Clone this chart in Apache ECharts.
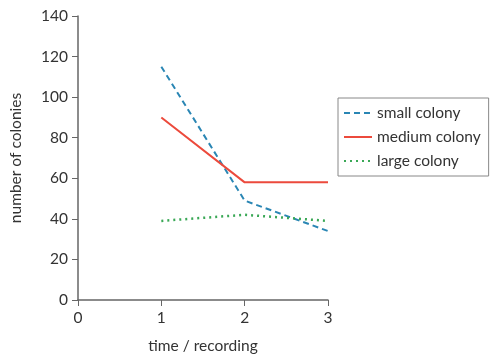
<!DOCTYPE html>
<html><head><meta charset="utf-8">
<script src="https://cdn.jsdelivr.net/npm/echarts@6/dist/echarts.min.js"></script>
<style>html,body{margin:0;padding:0;background:#fff}#c{width:497px;height:360px}</style>
</head><body><div id="c"></div>
<script>
const times = [1, 2, 3];
const smallColony = [115, 49, 34];
const mediumColony = [90, 58, 58];
const largeColony = [39, 42, 39];
const seriesNames = ['small colony', 'medium colony', 'large colony'];
const yTicks = [0, 20, 40, 60, 80, 100, 120, 140];
const xTicks = [0, 1, 2, 3];

const font = 'Lato, "Open Sans", sans-serif';
const chart = echarts.init(document.getElementById('c'));
const pairs = a => times.map((t, i) => [t, a[i]]);
chart.setOption({
  animation: false,
  textStyle: {fontFamily: font},
  grid: {left: 78, right: 169, top: 16, bottom: 60, containLabel: false},
  legend: {
    orient: 'vertical', left: 338, top: 98,
    itemGap: 8, itemWidth: 28, itemHeight: 14,
    padding: [7, 8, 7, 5],
    borderColor: '#888', borderWidth: 1,
    itemStyle: {opacity: 0},
    textStyle: {fontSize: 15.5, color: '#333', fontFamily: font},
    data: seriesNames
  },
  xAxis: {
    type: 'value', min: 0, max: 3, interval: 1,
    name: 'time / recording', nameLocation: 'middle', nameGap: 38,
    nameTextStyle: {fontSize: 15.5, color: '#333'},
    axisLine: {show: true, lineStyle: {color: '#666', width: 1.5}},
    axisTick: {show: true, length: 6, lineStyle: {color: '#666'}},
    axisLabel: {fontSize: 15.5, color: '#333', margin: 10},
    splitLine: {show: false}
  },
  yAxis: {
    type: 'value', min: 0, max: 140, interval: 20,
    name: 'number of colonies', nameLocation: 'middle', nameGap: 54,
    nameTextStyle: {fontSize: 15.5, color: '#333'},
    axisLine: {show: true, lineStyle: {color: '#666', width: 1.5}},
    axisTick: {show: true, length: 6, lineStyle: {color: '#666'}},
    axisLabel: {fontSize: 15.5, color: '#333', margin: 10},
    splitLine: {show: false}
  },
  series: [
    {name: seriesNames[0], type: 'line', data: pairs(smallColony), symbol: 'none',
     lineStyle: {color: '#2a86b4', width: 2, type: [6, 4]}, itemStyle: {color: '#2a86b4'}},
    {name: seriesNames[1], type: 'line', data: pairs(mediumColony), symbol: 'none',
     lineStyle: {color: '#ec4a3c', width: 2}, itemStyle: {color: '#ec4a3c'}},
    {name: seriesNames[2], type: 'line', data: pairs(largeColony), symbol: 'none',
     lineStyle: {color: '#3aa856', width: 2.5, type: [2, 4]}, itemStyle: {color: '#3aa856'}}
  ]
});
</script></body></html>
